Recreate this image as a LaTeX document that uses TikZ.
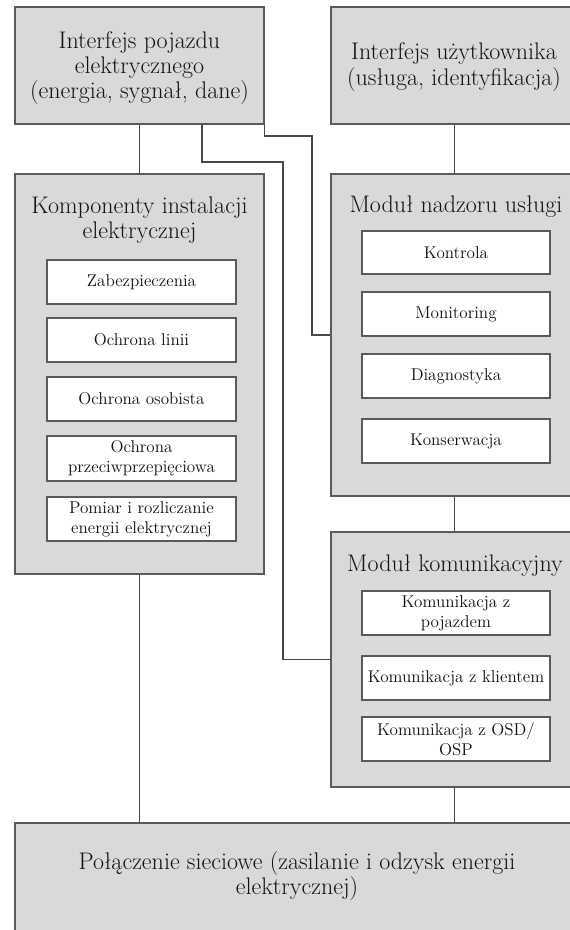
\documentclass[tikz,border=0pt]{standalone}
\usetikzlibrary{fit}
\definecolor{panel}{HTML}{D9D9D9}
\definecolor{edge}{HTML}{5A5A5A}
\definecolor{wirec}{HTML}{474747}
\definecolor{ink}{HTML}{111111}
\tikzset{
  panelbox/.style={draw=edge, fill=panel, line width=1.1pt, inner sep=0pt},
  itembox/.style={draw=edge, fill=white, line width=1.1pt, inner sep=0pt},
  headtext/.style={font=\fontsize{18}{19}\selectfont, text=ink, align=center, inner sep=0pt},
  itemtext/.style={font=\fontsize{12.8}{15}\selectfont, text=ink, align=center, inner sep=0pt},
  wire/.style={draw=wirec, line width=0.9pt},
}
\begin{document}
\begin{tikzpicture}[x=0.75pt,y=-0.75pt]
\useasboundingbox (0,0) rectangle (570,930);
\clip (0,0) rectangle (570,930);

% outer panels
\node[panelbox, fit={(15,7)(264,124)}] (veh) {};
\node[panelbox, fit={(331,7)(578,124)}] (usr) {};
\node[panelbox, fit={(15,174)(264,574)}] (comp) {};
\node[panelbox, fit={(331,174)(578,496)}] (nad) {};
\node[panelbox, fit={(331,532)(578,787)}] (kom) {};
\node[panelbox, fit={(15,823)(578,945)}] (grid) {};

% panel texts
\node[headtext] (vehtxt) at (139.5,68) {Interfejs pojazdu\\elektrycznego\\(energia, sygnał, dane)};
\node[headtext] (usrtxt) at (454,67) {Interfejs użytkownika\\(usługa, identyfikacja)};
\node[headtext] (comptxt) at (139.5,220) {Komponenty instalacji\\elektrycznej};
\node[headtext] (nadtxt) at (456,207) {Moduł nadzoru usługi};
\node[headtext] (komtxt) at (455,566) {Moduł komunikacyjny};
\node[headtext] (gridtxt) at (297,876) {Połączenie sieciowe (zasilanie i odzysk energii\\elektrycznej)};

% installation components
\node[itembox, fit={(47,260)(236,304)}] (zab) {};
\node[itemtext] at (zab) {Zabezpieczenia};
\node[itembox, fit={(47,318)(236,362)}] (lin) {};
\node[itemtext] at (lin) {Ochrona linii};
\node[itembox, fit={(47,377)(236,421)}] (oso) {};
\node[itemtext] at (oso) {Ochrona osobista};
\node[itembox, fit={(47,436)(236,481)}] (prz) {};
\node[itemtext] at (prz) {Ochrona\\przeciwprzepięciowa};
\node[itembox, fit={(47,497)(236,541)}] (pom) {};
\node[itemtext] at (pom) {Pomiar i rozliczanie\\energii elektrycznej};

% supervision module
\node[itembox, fit={(362,231)(550,274)}] (kon) {};
\node[itemtext] at (kon) {Kontrola};
\node[itembox, fit={(362,292)(550,336)}] (mon) {};
\node[itemtext] at (mon) {Monitoring};
\node[itembox, fit={(362,354)(550,398)}] (dia) {};
\node[itemtext] at (dia) {Diagnostyka};
\node[itembox, fit={(362,419)(550,463)}] (kns) {};
\node[itemtext] at (kns) {Konserwacja};

% communication module
\node[itembox, fit={(362,591)(550,635)}] (kpo) {};
\node[itemtext] at (kpo) {Komunikacja z\\pojazdem};
\node[itembox, fit={(362,656)(550,700)}] (kkl) {};
\node[itemtext] at (kkl) {Komunikacja z klientem};
\node[itembox, fit={(362,717)(550,761)}] (kos) {};
\node[itemtext] at (kos) {Komunikacja z OSD/\\OSP};

% bend points
\coordinate (p2a) at (202,162);
\coordinate (p2b) at (283,162);
\coordinate (p3b) at (312,136);

% connectors
\draw[wire] (veh.south) -- (comp.north);
\draw[wire] (veh.south -| p2a) -- (p2a) -- (p2b) |- (kom.west);
\draw[wire] (veh.south east) |- (p3b) |- (nad.west);
\draw[wire] (usr.south) -- (usr.south |- nad.north);
\draw[wire] (nad.south) -- (nad.south |- kom.north);
\draw[wire] (comp.south) -- (comp.south |- grid.north);
\draw[wire] (kom.south) -- (kom.south |- grid.north);
\end{tikzpicture}
\end{document}
